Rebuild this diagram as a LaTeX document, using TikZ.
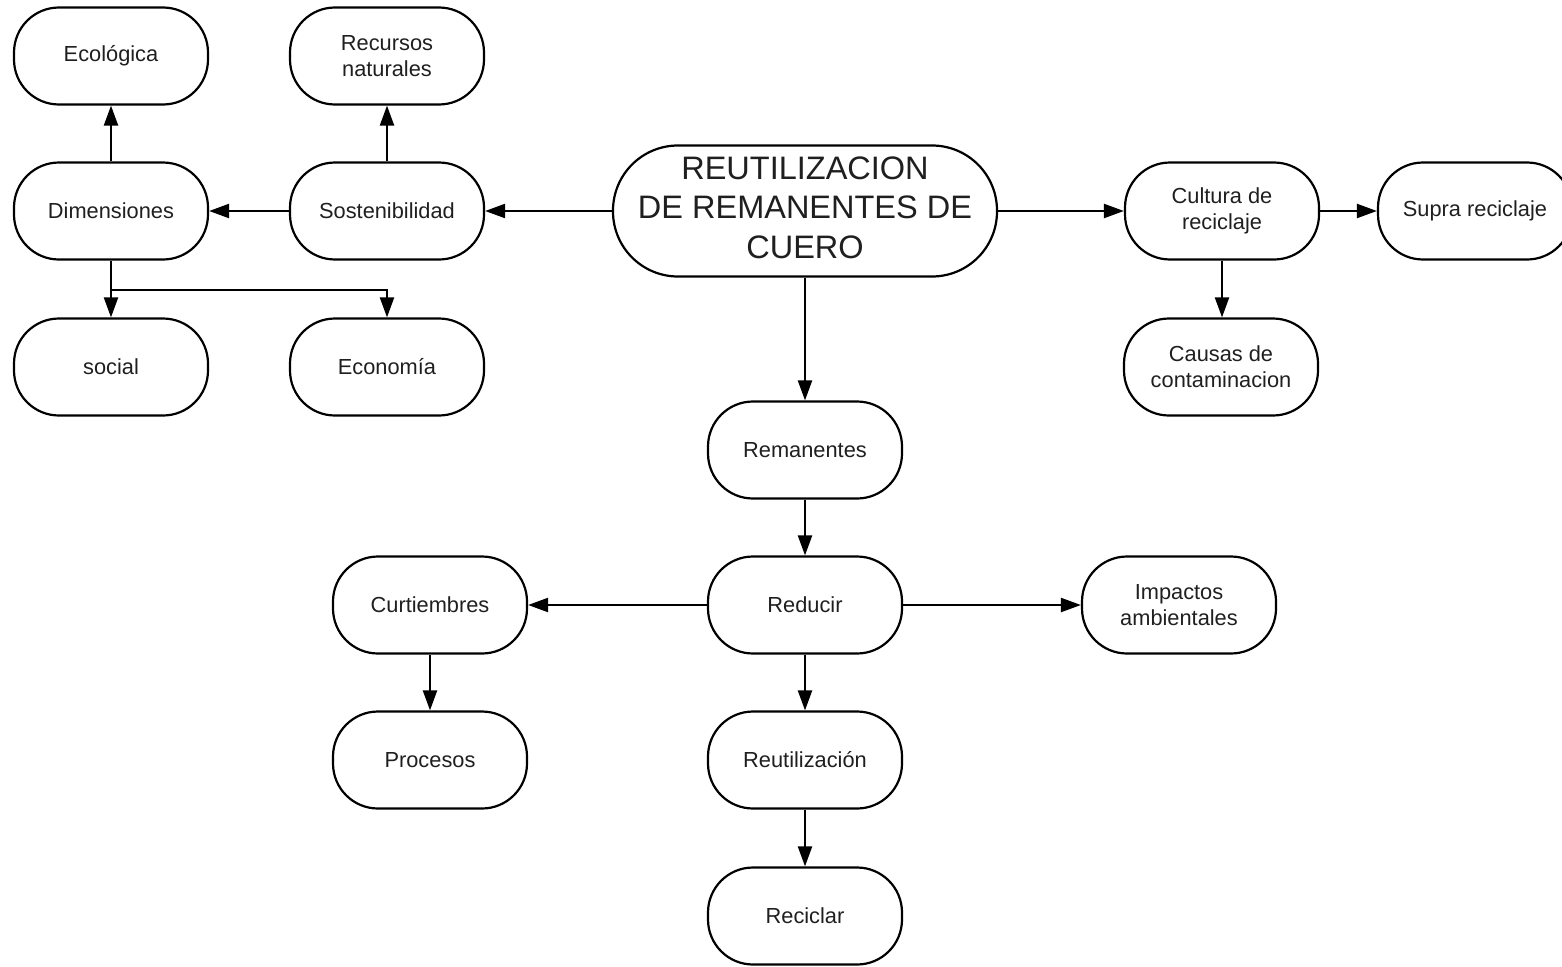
\documentclass[tikz,border=0pt]{standalone}
\usepackage{fontspec}
\setmainfont{Liberation Sans}
\usetikzlibrary{arrows.meta}
\begin{document}
\begin{tikzpicture}[x=1pt,y=-1pt,
  box/.style={draw=black, line width=2.2pt, rounded corners=45pt,
    minimum width=194pt, minimum height=97pt, align=center,
    font=\fontsize{21.8}{26}\selectfont, text=black!88},
  mainbox/.style={draw=black, line width=2.2pt, rounded corners=65pt,
    minimum width=384pt, minimum height=131pt,
    font=\fontsize{32.5}{39.5}\selectfont, text=black!88},
  link/.style={line width=2.2pt, -{Triangle[length=20pt,width=14pt]}}]
\useasboundingbox (0,0) rectangle (1562,966);
\begin{scope}
\clip (0,0) rectangle (1562,966);
% central topic
\node[mainbox] (main) at (805,211)
  {\raisebox{4pt}{\begin{tabular}{@{}c@{}}REUTILIZACION\\DE REMANENTES DE\\CUERO\end{tabular}}};
% left branch
\node[box] (sos) at (387,211) {Sostenibilidad};
\node[box] (rec) at (387,56) {Recursos\\naturales};
\node[box] (dim) at (111,211) {Dimensiones};
\node[box] (eco) at (111,56) {Ecológica};
\node[box] (soc) at (111,367) {social};
\node[box] (econ) at (387,367) {Economía};
% right branch
\node[box] (cul) at (1222,211) {Cultura de\\reciclaje};
\node[box] (sup) at (1475,211) {Supra reciclaje};
\node[box] (cau) at (1221,367) {Causas de\\contaminacion};
% lower branch
\node[box] (rem) at (805,450) {Remanentes};
\node[box] (red) at (805,605) {Reducir};
\node[box] (cur) at (430,605) {Curtiembres};
\node[box] (imp) at (1179,605) {Impactos\\ambientales};
\node[box] (pro) at (430,760) {Procesos};
\node[box] (reu) at (805,760) {Reutilización};
\node[box] (rcl) at (805,916) {Reciclar};
\end{scope}
% connectors
\draw[link] (main.west) -- (sos.east);
\draw[link] (sos.north) -- (rec.south);
\draw[link] (sos.west) -- (dim.east);
\draw[link] (dim.north) -- (eco.south);
\draw[link] (dim.south) -- (soc.north);
\coordinate (fork) at (111,290);
\draw[link] (fork) -| (econ.north);
\draw[link] (main.east) -- (cul.west);
\draw[link] (cul.east) -- (sup.west);
\draw[link] (cul.south) -- (cul.south |- cau.north);
\draw[link] (main.south) -- (rem.north);
\draw[link] (rem.south) -- (red.north);
\draw[link] (red.west) -- (cur.east);
\draw[link] (red.east) -- (imp.west);
\draw[link] (cur.south) -- (pro.north);
\draw[link] (red.south) -- (reu.north);
\draw[link] (reu.south) -- (rcl.north);
\end{tikzpicture}
\end{document}
